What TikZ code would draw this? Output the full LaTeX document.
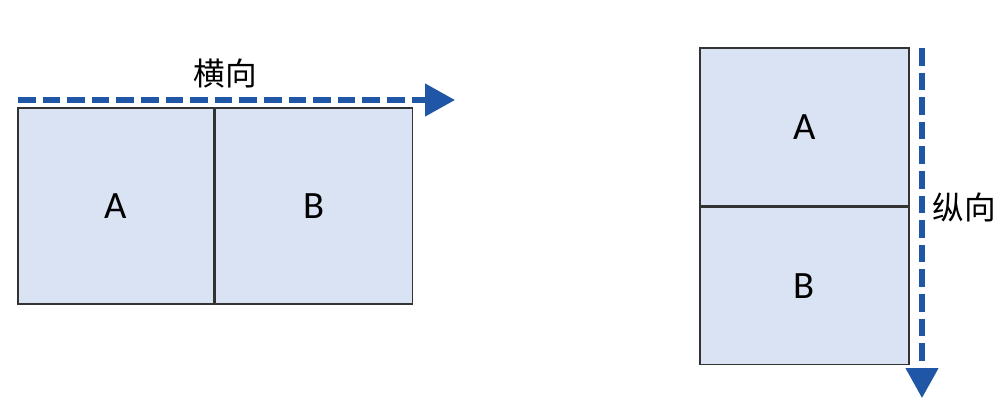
\documentclass[tikz,border=0pt]{standalone}
\usepackage{fontspec}
\setmainfont{Carlito}
\newfontfamily\cjk{Noto Sans CJK SC}
\usetikzlibrary{arrows.meta,positioning}
\definecolor{boxfill}{HTML}{DAE3F3}
\definecolor{arrowblue}{HTML}{1F56A6}
\tikzset{every picture/.style={line width=0.75pt}}
\tikzset{
  cell/.style={draw=black!80,fill=boxfill,line width=0.7pt,inner sep=0pt,font=\fontsize{22}{26}\selectfont},
  dirarrow/.style={arrowblue,line width=3pt,dash pattern=on 10pt off 4pt,-{Triangle[length=17pt,width=18pt]}},
  dirlabel/.style={font=\cjk\fontsize{18}{21}\selectfont}
}

\begin{document}
\begin{tikzpicture}[x=0.02cm,y=-0.02cm]
    \useasboundingbox (0,0) rectangle (1005,400);
    % left pair, side by side
    \node[cell,minimum width=3.92cm,minimum height=3.92cm] (hA) at (116,206) {A};
    \node[cell,minimum width=3.94cm,minimum height=3.92cm,right=0pt of hA] (hB) {B};
    \coordinate (hstart) at (18,100);
    \coordinate (hend) at (455,100);
    \draw[dirarrow] (hstart) -- (hend);
    \node[dirlabel] (hlabel) at (225,73) {横向};
    % right pair, stacked
    \node[cell,minimum width=4.18cm,minimum height=3.16cm] (vA) at (804.5,127) {A};
    \node[cell,minimum width=4.18cm,minimum height=3.14cm,below=0pt of vA] (vB) {B};
    \coordinate (vstart) at (922,48);
    \coordinate (vend) at (922,398);
    \draw[dirarrow] (vstart) -- (vend);
    \node[dirlabel] (vlabel) at (964,207) {纵向};
\end{tikzpicture}
\end{document}
